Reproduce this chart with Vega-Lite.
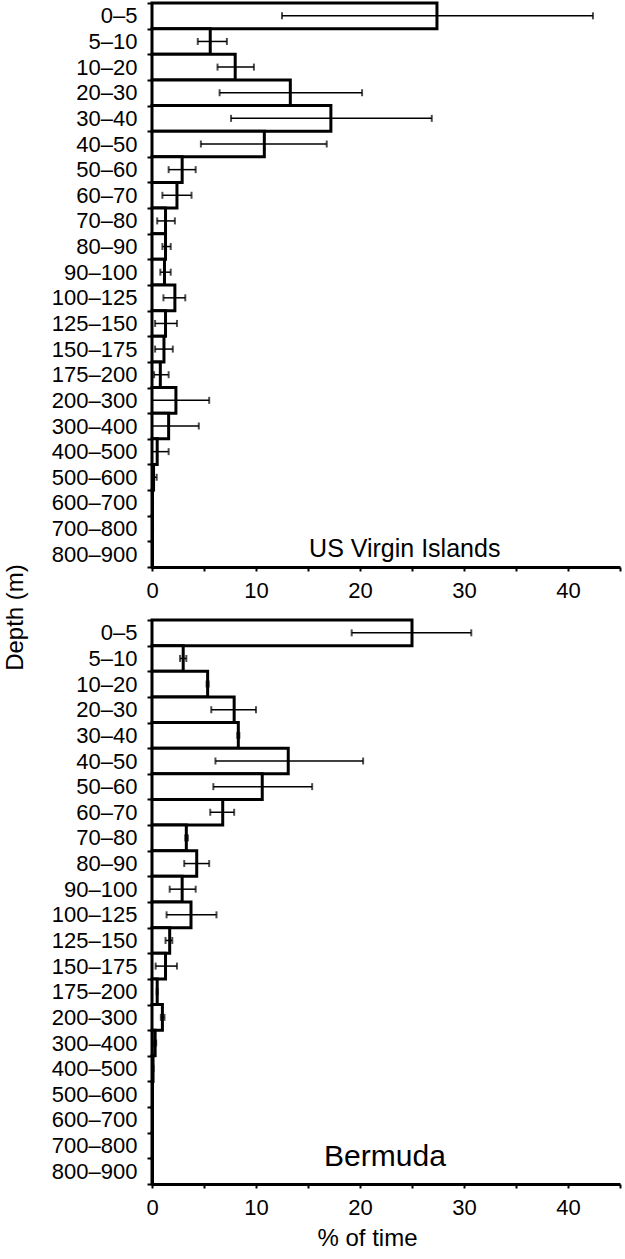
{
  "$schema": "https://vega.github.io/schema/vega-lite/v6.json",
  "padding": {"left": 3, "top": -8, "right": 4, "bottom": 0},
  "background": "white",
  "config": {
    "font": "Liberation Sans",
    "view": {"stroke": null},
    "axis": {
      "domainColor": "black", "domainWidth": 3, "tickColor": "black", "tickWidth": 2,
      "labelColor": "black", "labelFont": "Liberation Sans", "labelFontSize": 22,
      "titleColor": "black", "titleFont": "Liberation Sans", "titleFontSize": 24, "titleFontWeight": "normal",
      "grid": false
    }
  },
  "data": {"values": [
    {"site":"USVI","depth":"0–5","pct":27.4,"lo":12.5,"hi":42.4},
    {"site":"USVI","depth":"5–10","pct":5.6,"lo":4.4,"hi":7.2},
    {"site":"USVI","depth":"10–20","pct":8.0,"lo":6.3,"hi":9.8},
    {"site":"USVI","depth":"20–30","pct":13.3,"lo":6.5,"hi":20.2},
    {"site":"USVI","depth":"30–40","pct":17.2,"lo":7.6,"hi":26.9},
    {"site":"USVI","depth":"40–50","pct":10.8,"lo":4.7,"hi":16.8},
    {"site":"USVI","depth":"50–60","pct":2.9,"lo":1.6,"hi":4.2},
    {"site":"USVI","depth":"60–70","pct":2.4,"lo":1.0,"hi":3.8},
    {"site":"USVI","depth":"70–80","pct":1.3,"lo":0.5,"hi":2.2},
    {"site":"USVI","depth":"80–90","pct":1.3,"lo":1.0,"hi":1.8},
    {"site":"USVI","depth":"90–100","pct":1.2,"lo":0.8,"hi":1.8},
    {"site":"USVI","depth":"100–125","pct":2.2,"lo":1.1,"hi":3.2},
    {"site":"USVI","depth":"125–150","pct":1.3,"lo":0.3,"hi":2.4},
    {"site":"USVI","depth":"150–175","pct":1.15,"lo":0.3,"hi":2.0},
    {"site":"USVI","depth":"175–200","pct":0.8,"lo":0.2,"hi":1.6},
    {"site":"USVI","depth":"200–300","pct":2.3,"lo":0.0,"hi":5.5},
    {"site":"USVI","depth":"300–400","pct":1.6,"lo":0.0,"hi":4.5},
    {"site":"USVI","depth":"400–500","pct":0.5,"lo":0.0,"hi":1.6},
    {"site":"USVI","depth":"500–600","pct":0.15,"lo":0.0,"hi":0.45},
    {"site":"USVI","depth":"600–700","pct":0.05,"lo":0.0,"hi":0.1},
    {"site":"USVI","depth":"700–800","pct":0.05,"lo":0.0,"hi":0.1},
    {"site":"USVI","depth":"800–900","pct":0.02,"lo":0.0,"hi":0.05},
    {"site":"Bermuda","depth":"0–5","pct":25.0,"lo":19.2,"hi":30.7},
    {"site":"Bermuda","depth":"5–10","pct":3.0,"lo":2.7,"hi":3.3},
    {"site":"Bermuda","depth":"10–20","pct":5.35,"lo":5.25,"hi":5.45},
    {"site":"Bermuda","depth":"20–30","pct":7.9,"lo":5.7,"hi":10.0},
    {"site":"Bermuda","depth":"30–40","pct":8.3,"lo":8.2,"hi":8.4},
    {"site":"Bermuda","depth":"40–50","pct":13.1,"lo":6.1,"hi":20.3},
    {"site":"Bermuda","depth":"50–60","pct":10.6,"lo":5.9,"hi":15.4},
    {"site":"Bermuda","depth":"60–70","pct":6.8,"lo":5.6,"hi":7.9},
    {"site":"Bermuda","depth":"70–80","pct":3.3,"lo":3.2,"hi":3.45},
    {"site":"Bermuda","depth":"80–90","pct":4.3,"lo":3.1,"hi":5.5},
    {"site":"Bermuda","depth":"90–100","pct":2.9,"lo":1.7,"hi":4.2},
    {"site":"Bermuda","depth":"100–125","pct":3.75,"lo":1.4,"hi":6.2},
    {"site":"Bermuda","depth":"125–150","pct":1.7,"lo":1.3,"hi":1.95},
    {"site":"Bermuda","depth":"150–175","pct":1.3,"lo":0.35,"hi":2.4},
    {"site":"Bermuda","depth":"175–200","pct":0.5,"lo":0.45,"hi":0.55},
    {"site":"Bermuda","depth":"200–300","pct":1.0,"lo":0.85,"hi":1.2},
    {"site":"Bermuda","depth":"300–400","pct":0.3,"lo":0.2,"hi":0.4},
    {"site":"Bermuda","depth":"400–500","pct":0.1,"lo":0.05,"hi":0.15},
    {"site":"Bermuda","depth":"500–600","pct":0.05,"lo":0.03,"hi":0.07},
    {"site":"Bermuda","depth":"600–700","pct":0.05,"lo":0.03,"hi":0.07},
    {"site":"Bermuda","depth":"700–800","pct":0.03,"lo":0.02,"hi":0.04},
    {"site":"Bermuda","depth":"800–900","pct":0.02,"lo":0.01,"hi":0.03}
  ]},
  "bounds": "flush",
  "spacing": 53,
  "vconcat": [
    {
      "width": 468, "height": 564,
      "transform": [{"filter": "datum.site === 'USVI'"}],
      "encoding": {
        "y": {"field": "depth", "type": "nominal",
          "scale": {"domain": ["0–5","5–10","10–20","20–30","30–40","40–50","50–60","60–70","70–80","80–90","90–100","100–125","125–150","150–175","175–200","200–300","300–400","400–500","500–600","600–700","700–800","800–900"], "paddingInner": 0, "paddingOuter": 0},
          "axis": {"title": null, "tickBand": "extent", "tickSize": 5, "labelPadding": 10}}
      },
      "layer": [
        {"mark": {"type": "bar", "fill": "white", "stroke": "black", "strokeWidth": 3},
         "encoding": {"x": {"field": "pct", "type": "quantitative", "title": null,
            "scale": {"domain": [0, 45], "nice": false},
            "axis": {"title": null, "values": [0,5,10,15,20,25,30,35,40,45], "labelExpr": "datum.value % 10 === 0 ? datum.label : ''", "tickSize": 4, "labelPadding": 9, "labelFlush": false}}}},
        {"mark": {"type": "errorbar", "ticks": {"size": 7, "thickness": 2, "color": "black"}, "rule": {"strokeWidth": 1.5, "color": "black"}},
         "encoding": {"x": {"field": "lo", "type": "quantitative", "title": null}, "x2": {"field": "hi"}}},
        {"data": {"values": [{"label": "US Virgin Islands"}]},
         "mark": {"type": "text", "fontSize": 25, "font": "Liberation Sans", "align": "center", "baseline": "alphabetic", "dy": 3, "color": "black"},
         "encoding": {"text": {"field": "label"}, "x": {"datum": 24.3}, "y": {"datum": "800–900"}}}
      ]
    },
    {
      "width": 468, "height": 564,
      "transform": [{"filter": "datum.site === 'Bermuda'"}],
      "encoding": {
        "y": {"field": "depth", "type": "nominal",
          "scale": {"domain": ["0–5","5–10","10–20","20–30","30–40","40–50","50–60","60–70","70–80","80–90","90–100","100–125","125–150","150–175","175–200","200–300","300–400","400–500","500–600","600–700","700–800","800–900"], "paddingInner": 0, "paddingOuter": 0},
          "axis": {"title": "Depth (m)", "tickBand": "extent", "tickSize": 5, "labelPadding": 10, "titleY": -3, "titleX": -125}}
      },
      "layer": [
        {"mark": {"type": "bar", "fill": "white", "stroke": "black", "strokeWidth": 3},
         "encoding": {"x": {"field": "pct", "type": "quantitative", "title": "% of time",
            "scale": {"domain": [0, 45], "nice": false},
            "axis": {"title": "% of time", "values": [0,5,10,15,20,25,30,35,40,45], "labelExpr": "datum.value % 10 === 0 ? datum.label : ''", "tickSize": 4, "labelPadding": 9, "labelFlush": false, "titlePadding": 8, "titleX": 215}}}},
        {"mark": {"type": "errorbar", "ticks": {"size": 7, "thickness": 2, "color": "black"}, "rule": {"strokeWidth": 1.5, "color": "black"}},
         "encoding": {"x": {"field": "lo", "type": "quantitative", "title": "% of time"}, "x2": {"field": "hi"}}},
        {"data": {"values": [{"label": "Bermuda"}]},
         "mark": {"type": "text", "fontSize": 30, "font": "Liberation Sans", "align": "center", "baseline": "alphabetic", "dy": -5, "color": "black"},
         "encoding": {"text": {"field": "label"}, "x": {"datum": 22.4}, "y": {"datum": "800–900"}}}
      ]
    }
  ]
}
